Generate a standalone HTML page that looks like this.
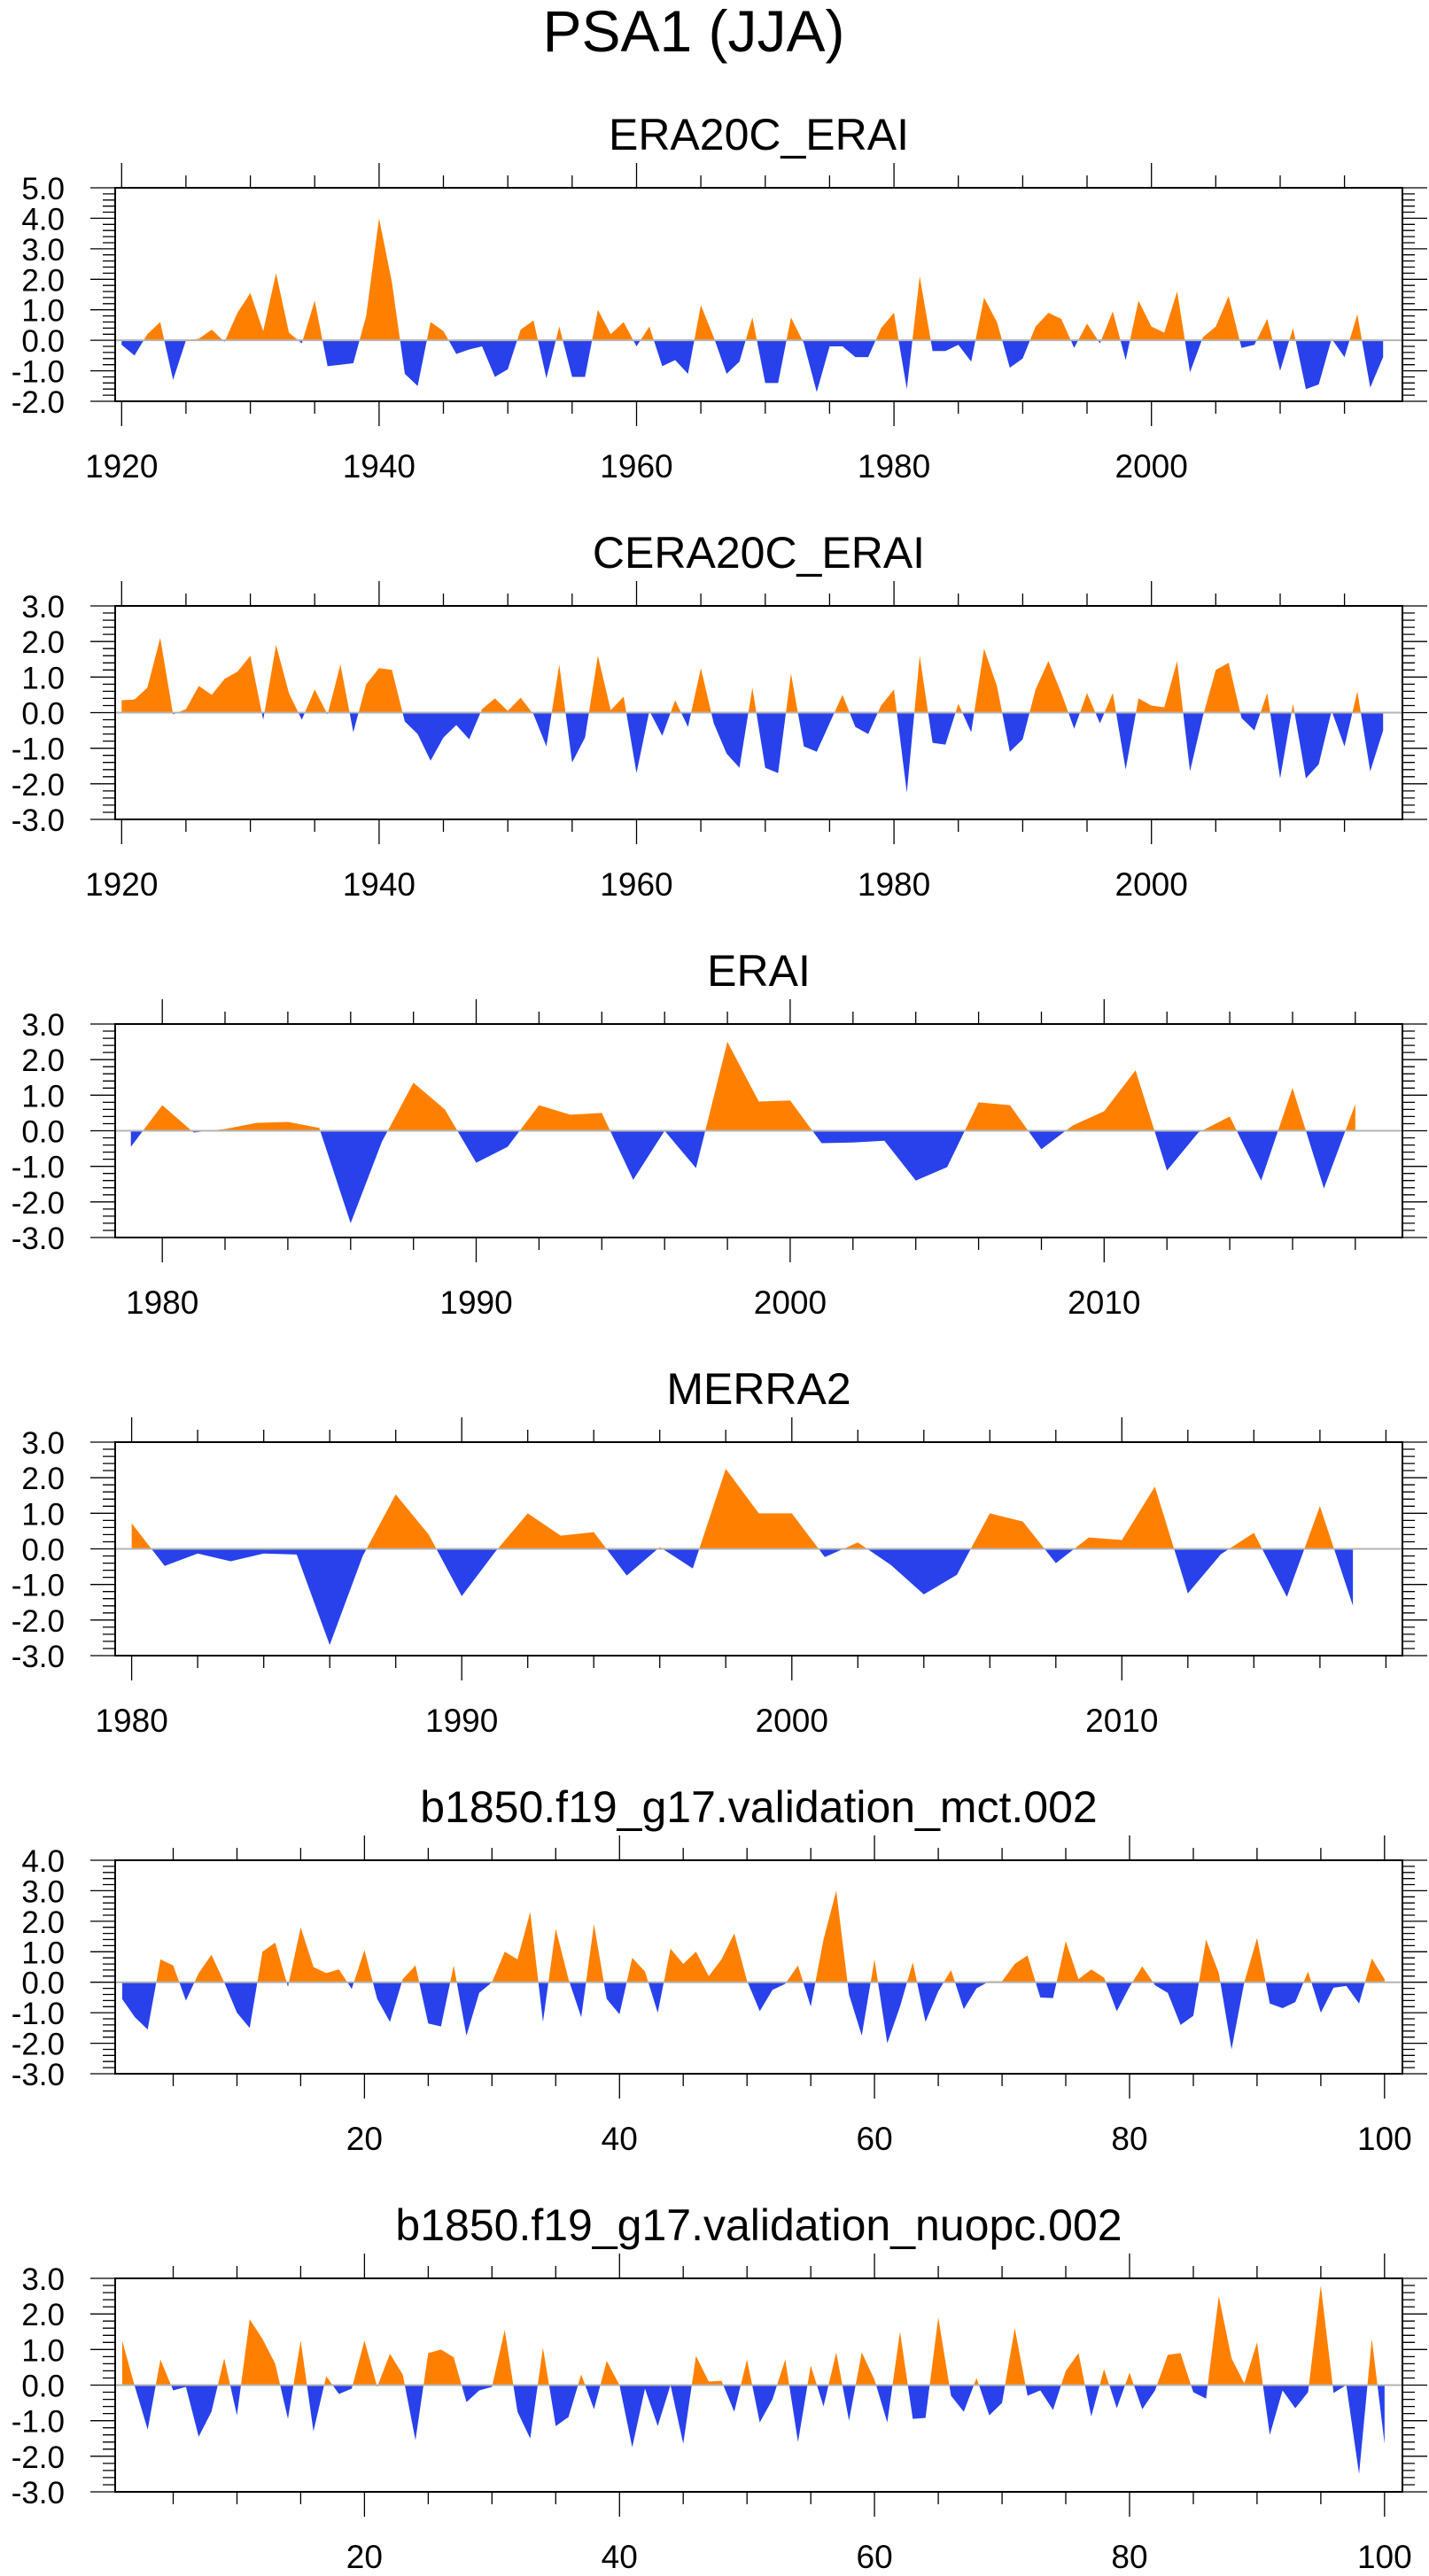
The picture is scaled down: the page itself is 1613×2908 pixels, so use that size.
<!DOCTYPE html>
<html><head><meta charset="utf-8"><style>
html,body{margin:0;padding:0;background:#fff}
svg{display:block}
text{font-family:"Liberation Sans",sans-serif;fill:#000}
</style></head><body>
<svg id="fig" width="1613" height="2908" viewBox="0 0 1613 2908" xmlns="http://www.w3.org/2000/svg">
<text x="783" y="58" font-size="66" text-anchor="middle">PSA1 (JJA)</text>
</svg>
<script>
const era20cYears = [1920, 2018];
const era20cValues = [-0.15,-0.5,0.2,0.6,-1.3,0.0,0.05,0.35,-0.05,0.9,1.55,0.3,2.2,0.25,-0.1,1.3,-0.85,-0.8,-0.75,0.8,4.0,1.9,-1.1,-1.5,0.6,0.3,-0.45,-0.3,-0.2,-1.2,-0.95,0.35,0.65,-1.25,0.45,-1.2,-1.2,1.0,0.2,0.6,-0.2,0.45,-0.85,-0.65,-1.1,1.15,0.1,-1.1,-0.7,0.75,-1.4,-1.4,0.75,-0.1,-1.7,-0.2,-0.2,-0.55,-0.55,0.4,0.9,-1.6,2.1,-0.35,-0.35,-0.15,-0.7,1.4,0.6,-0.9,-0.6,0.45,0.9,0.7,-0.25,0.55,-0.1,0.95,-0.65,1.3,0.45,0.25,1.6,-1.05,0.1,0.45,1.45,-0.25,-0.15,0.7,-1.0,0.4,-1.6,-1.45,0.05,-0.55,0.85,-1.55,-0.55];
const cera20cValues = [0.35,0.37,0.7,2.1,-0.05,0.1,0.75,0.5,0.95,1.15,1.6,-0.2,1.9,0.55,-0.2,0.65,-0.05,1.35,-0.55,0.8,1.25,1.2,-0.25,-0.6,-1.35,-0.7,-0.35,-0.75,0.1,0.4,0.05,0.42,-0.05,-0.95,1.35,-1.4,-0.7,1.6,0.07,0.45,-1.7,0.05,-0.65,0.35,-0.4,1.25,-0.3,-1.15,-1.55,0.7,-1.55,-1.7,1.1,-0.95,-1.1,-0.3,0.5,-0.4,-0.6,0.2,0.65,-2.25,1.6,-0.85,-0.9,0.25,-0.55,1.8,0.75,-1.1,-0.75,0.65,1.45,0.55,-0.45,0.55,-0.3,0.55,-1.6,0.4,0.2,0.15,1.45,-1.65,-0.1,1.2,1.4,-0.15,-0.5,0.55,-1.85,0.25,-1.85,-1.45,0.05,-0.95,0.6,-1.65,-0.5];
const eraiYears = [1979, 2018];
const eraiValues = [-0.45,0.72,-0.05,0.05,0.22,0.25,0.08,-2.6,-0.3,1.35,0.6,-0.9,-0.45,0.72,0.45,0.5,-1.38,0.0,-1.05,2.5,0.82,0.85,-0.35,-0.33,-0.28,-1.4,-1.02,0.8,0.72,-0.52,0.15,0.55,1.7,-1.12,-0.05,0.4,-1.4,1.2,-1.62,0.75];
const merra2Years = [1980, 2017];
const merra2Values = [0.72,-0.48,-0.13,-0.35,-0.13,-0.16,-2.7,-0.2,1.53,0.4,-1.33,-0.1,1.0,0.37,0.47,-0.75,0.05,-0.55,2.25,1.0,1.0,-0.23,0.18,-0.45,-1.28,-0.73,1.0,0.77,-0.4,0.32,0.25,1.75,-1.25,-0.15,0.45,-1.35,1.2,-1.6];
const modelYears = [1, 100];
const mctValues = [-0.55,-1.15,-1.55,0.75,0.55,-0.6,0.3,0.9,0.0,-1.0,-1.5,1.0,1.3,-0.15,1.8,0.5,0.3,0.42,-0.22,1.05,-0.55,-1.3,0.1,0.55,-1.35,-1.45,0.55,-1.75,-0.35,0.0,1.0,0.75,2.3,-1.3,1.75,0.1,-1.15,1.9,-0.55,-1.05,0.8,0.35,-1.0,1.1,0.6,1.0,0.2,0.75,1.6,0.05,-0.95,-0.25,-0.05,0.55,-0.8,1.4,3.0,-0.4,-1.75,0.75,-2.0,-0.8,0.65,-1.3,-0.3,0.4,-0.88,-0.2,0.03,0.03,0.6,0.88,-0.5,-0.52,1.35,0.1,0.42,0.15,-0.95,-0.15,0.52,-0.1,-0.35,-1.4,-1.1,1.4,0.3,-2.2,0.0,1.45,-0.7,-0.85,-0.65,0.35,-1.0,-0.18,-0.12,-0.7,0.78,0.1];
const nuopcValues = [1.25,-0.05,-1.25,0.72,-0.15,-0.05,-1.45,-0.75,0.75,-0.85,1.85,1.3,0.6,-0.95,1.25,-1.3,0.25,-0.25,-0.1,1.25,-0.05,0.88,0.3,-1.55,0.9,1.0,0.78,-0.48,-0.15,-0.05,1.55,-0.75,-1.5,1.05,-1.15,-0.9,0.3,-0.68,0.68,0.0,-1.75,-0.1,-1.15,0.0,-1.65,0.82,0.1,0.12,-0.75,0.72,-1.05,-0.4,0.72,-1.6,0.55,-0.6,0.92,-1.0,0.92,0.15,-1.05,1.5,-0.95,-0.92,1.9,-0.3,-0.75,0.2,-0.85,-0.5,1.6,-0.3,-0.15,-0.7,0.4,0.9,-0.88,0.45,-0.65,0.35,-0.68,-0.15,0.85,0.9,-0.2,-0.38,2.5,0.75,0.05,1.2,-1.4,-0.15,-0.65,-0.2,2.8,-0.22,0.0,-2.5,1.3,-1.65];
const era20cXTicks = [1920,1940,1960,1980,2000];
const eraiXTicks = [1980,1990,2000,2010];
const modelXTicks = [20,40,60,80,100];

const NS="http://www.w3.org/2000/svg";
const svg=document.getElementById('fig');
const L=130,R=1583,H=241;
function mk(tag,attrs,parent){const e=document.createElementNS(NS,tag);for(const k in attrs)e.setAttribute(k,attrs[k]);(parent||svg).appendChild(e);return e;}

const panels=[
 {name:'era20c-erai',title:'ERA20C_ERAI',top:212,x0:1919.5,x1:2019.5,y0:-2,y1:5,start:era20cYears[0],vals:era20cValues,major:era20cXTicks,minorStep:5,minorFrom:1920,minorTo:2015},
 {name:'cera20c-erai',title:'CERA20C_ERAI',top:684,x0:1919.5,x1:2019.5,y0:-3,y1:3,start:era20cYears[0],vals:cera20cValues,major:era20cXTicks,minorStep:5,minorFrom:1920,minorTo:2015},
 {name:'erai',title:'ERAI',top:1156,x0:1978.5,x1:2019.5,y0:-3,y1:3,start:eraiYears[0],vals:eraiValues,major:eraiXTicks,minorStep:2,minorFrom:1980,minorTo:2018},
 {name:'merra2',title:'MERRA2',top:1628,x0:1979.5,x1:2018.5,y0:-3,y1:3,start:merra2Years[0],vals:merra2Values,major:eraiXTicks,minorStep:2,minorFrom:1980,minorTo:2018},
 {name:'mct',title:'b1850.f19_g17.validation_mct.002',top:2100,x0:0.45,x1:101.4,y0:-3,y1:4,start:modelYears[0],vals:mctValues,major:modelXTicks,minorStep:5,minorFrom:5,minorTo:100},
 {name:'nuopc',title:'b1850.f19_g17.validation_nuopc.002',top:2572,x0:0.45,x1:101.4,y0:-3,y1:3,start:modelYears[0],vals:nuopcValues,major:modelXTicks,minorStep:5,minorFrom:5,minorTo:100}
];

panels.forEach((p,pi)=>{
 const T=p.top,B=T+H;
 const xs=v=>L+(v-p.x0)/(p.x1-p.x0)*(R-L);
 const ys=v=>B-(v-p.y0)/(p.y1-p.y0)*H;
 const g=mk('g',{});
 
 
 const t=mk('text',{x:(L+R)/2,y:T-43,'font-size':50,'text-anchor':'middle'},g);
 
 
 t.textContent=p.title;
 // fills
 const y0=ys(0);
 const cid='clipA'+pi, cid2='clipB'+pi;
 const defs=mk('defs',{},g);
 const c1=mk('clipPath',{id:cid},defs); mk('rect',{x:L,y:T,width:R-L,height:y0-T},c1);
 const c2=mk('clipPath',{id:cid2},defs); mk('rect',{x:L,y:y0,width:R-L,height:B-y0},c2);
 let d='M'+xs(p.start).toFixed(2)+','+y0.toFixed(2);
 p.vals.forEach((v,i)=>{d+=' L'+xs(p.start+i).toFixed(2)+','+ys(v).toFixed(2);});
 d+=' L'+xs(p.start+p.vals.length-1).toFixed(2)+','+y0.toFixed(2)+' Z';
 const a=mk('path',{d:d,fill:'#ff8000','clip-path':'url(#'+cid+')'},g);
 
 
 const b=mk('path',{d:d,fill:'#2841eb','clip-path':'url(#'+cid2+')'},g);
 
 
 const zl=mk('line',{x1:L,x2:R,y1:y0,y2:y0,stroke:'#b4b4b4','stroke-width':2},g);
 
 
 const fr=mk('rect',{x:L,y:T,width:R-L,height:H,fill:'none',stroke:'#000','stroke-width':2},g);
 
 
 // x ticks
 let tk='';
 for(let v=p.minorFrom;v<=p.minorTo+1e-9;v+=p.minorStep){
   const x=xs(v).toFixed(1);
   const maj=p.major.indexOf(v)>=0;const len=maj?28:14;
   tk+='M'+x+','+T+' V'+(T-len)+' M'+x+','+B+' V'+(B+len)+' ';
 }
 p.major.forEach(v=>{const x=xs(v).toFixed(1);tk+='M'+x+','+T+' V'+(T-28)+' M'+x+','+B+' V'+(B+28)+' ';});
 // y ticks
 for(let k=Math.round(p.y0*5);k<=Math.round(p.y1*5);k++){
   const y=ys(k/5).toFixed(1);const len=(k%5===0)?28:14;
   tk+='M'+L+','+y+' H'+(L-len)+' M'+R+','+y+' H'+(R+len)+' ';
 }
 const tp=mk('path',{d:tk,stroke:'#000','stroke-width':1.3,fill:'none'},g);
 
 
 p.major.forEach(v=>{
   const e=mk('text',{x:xs(v),y:B+86,'font-size':37,'text-anchor':'middle'},g);
   
   
   e.textContent=String(v);
 });
 for(let v=p.y0;v<=p.y1;v++){
   const e=mk('text',{x:73,y:ys(v)+13,'font-size':35,'text-anchor':'end'},g);
   
   
   e.textContent=v.toFixed(1);
 }
});
</script>
</body></html>
